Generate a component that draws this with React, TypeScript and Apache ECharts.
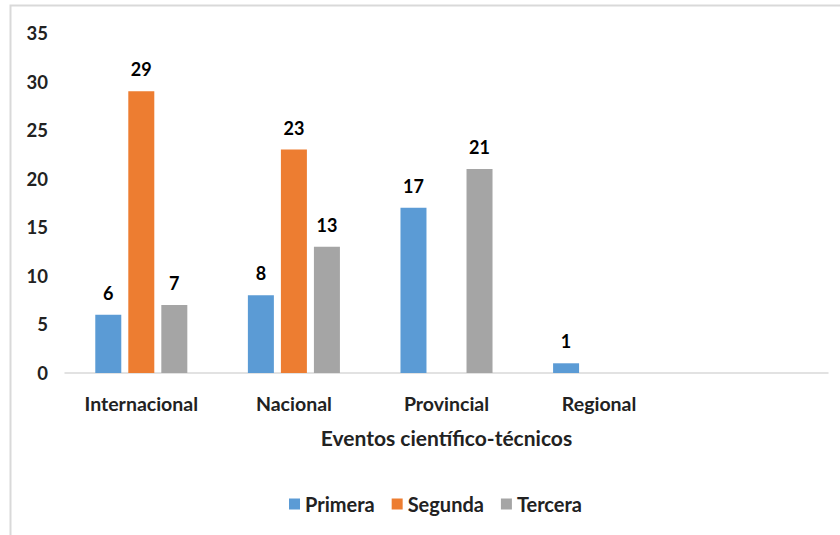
import React, { useEffect, useRef } from "react";
import * as echarts from "echarts";

const categories = ["Internacional", "Nacional", "Provincial", "Regional", ""];
const primera = [6, 8, 17, 1, "-"];
const segunda = [29, 23, "-", "-", "-"];
const tercera = [7, 13, 21, "-", "-"];
const seriesNames = ["Primera", "Segunda", "Tercera"];
const colors = ["#5B9BD5", "#ED7D31", "#A5A5A5"];

const FONT = "Lato";

export default function App() {
  const ref = useRef<HTMLDivElement>(null);
  useEffect(() => {
    if (!ref.current) return;
    const chart = echarts.init(ref.current, null, { renderer: "svg" });
    const label = {
      show: true,
      position: "top",
      distance: 13,
      color: "#000",
      fontFamily: FONT,
      fontWeight: "bold",
      fontSize: 18,
    };
    const data = [primera, segunda, tercera];
    chart.setOption({
      animation: false,
      backgroundColor: "#fff",
      graphic: [
        {
          type: "rect",
          shape: { x: 10.5, y: 5.5, width: 860, height: 560 },
          style: { fill: "none", stroke: "#d9d9d9", lineWidth: 2 },
          silent: true,
        },
      ],
      grid: { left: 65, right: 12, top: 33, bottom: 162 },
      legend: {
        bottom: 16,
        left: 284,
        itemWidth: 11,
        itemHeight: 11,
        itemGap: 17,
        icon: "rect",
        textStyle: { fontFamily: FONT, fontWeight: "bold", fontSize: 20, color: "#222" },
        data: seriesNames,
      },
      xAxis: {
        type: "category",
        data: categories,
        axisLine: { show: true, lineStyle: { color: "#d9d9d9", width: 1.5 } },
        axisTick: { show: false },
        axisLabel: {
          color: "#222",
          fontFamily: FONT,
          fontWeight: "bold",
          fontSize: 19.5,
          margin: 20,
        },
        name: "Eventos científico-técnicos",
        nameLocation: "middle",
        nameGap: 54,
        nameTextStyle: { color: "#222", fontFamily: FONT, fontWeight: "bold", fontSize: 21 },
      },
      yAxis: {
        type: "value",
        min: 0,
        max: 35,
        interval: 5,
        axisLine: { show: false },
        axisTick: { show: false },
        splitLine: { show: false },
        axisLabel: {
          color: "#222",
          fontFamily: FONT,
          fontWeight: "bold",
          fontSize: 18.5,
          margin: 17,
        },
      },
      series: seriesNames.map((name, i) => ({
        name,
        type: "bar",
        data: data[i],
        barWidth: 26,
        barGap: "27%",
        itemStyle: { color: colors[i] },
        label,
      })),
    });
    return () => chart.dispose();
  }, []);
  return (
    <div
      ref={ref}
      style={{ position: "fixed", left: 0, top: 0, width: 840, height: 535 }}
    />
  );
}
